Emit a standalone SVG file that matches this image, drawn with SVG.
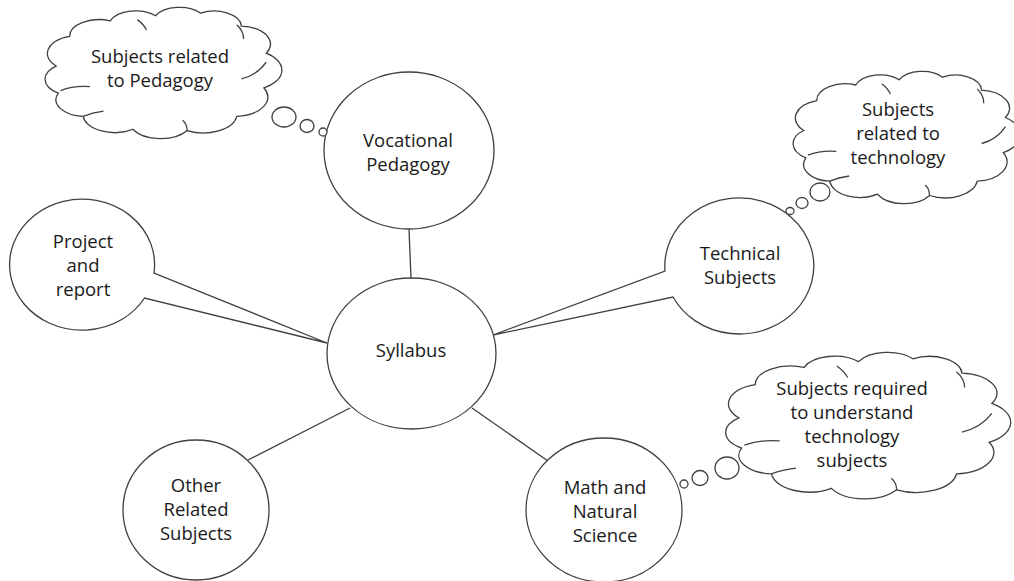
<svg xmlns="http://www.w3.org/2000/svg" width="1014" height="581" viewBox="0 0 1014 581">
<style>
.sh{fill:#fff;stroke:#404040;stroke-width:1.3}
.ln{fill:none;stroke:#404040;stroke-width:1.3}
.cl{fill:#fff;stroke:#404040;stroke-width:1.3;vector-effect:non-scaling-stroke}
.cr{fill:none;stroke:#404040;stroke-width:1.3;vector-effect:non-scaling-stroke}
.t{font-family:"Open Sans",Lato,sans-serif;font-size:18.5px;fill:#1a1a1a;text-anchor:middle}
</style>
<defs>
<path id="cloud" class="cl" d="M4,45 A14 14 0 0 1 10,22 A13 13 0 0 1 28,10 A12 12 0 0 1 48,6 A12 12 0 0 1 68,4 A12 12 0 0 1 86,14 A14 14 0 0 1 97,35 A16 16 0 0 1 96,62 A15 15 0 0 1 84,84 A15 15 0 0 1 62,95 A14 14 0 0 1 38,94 A14 14 0 0 1 16,84 A13 13 0 0 1 5,66 A13 13 0 0 1 4,45 Z"/>
<path id="crease" class="cr" d="M6,64 Q12,60 19,61 M40,9 Q43,13 44,17 M84,13 Q87,18 87,24 M97,42 Q93,52 86,55 M62,95 Q62,90 60,87 M16,84 Q20,81 25,80"/>
</defs>
<g id="connectors">
<line class="ln" x1="409" y1="229" x2="411" y2="278"/>
<line class="ln" x1="350" y1="408" x2="248" y2="460"/>
<line class="ln" x1="472" y1="408" x2="548" y2="461"/>
</g>
<g id="syllabus">
<ellipse class="sh" cx="411.5" cy="353.5" rx="84.5" ry="75.5"/>
<text class="t" x="411" y="357">Syllabus</text>
</g>
<g id="vocational">
<ellipse class="sh" cx="409" cy="150.5" rx="85" ry="78.5"/>
<text class="t" x="408" y="147">Vocational</text>
<text class="t" x="408" y="171">Pedagogy</text>
</g>
<g id="project">
<path class="sh" d="M154,273 A72.5 65.5 0 1 0 144.5,298 L327,343 Z"/>
<text class="t" x="83" y="248">Project</text>
<text class="t" x="83" y="272">and</text>
<text class="t" x="83" y="296">report</text>
</g>
<g id="technical">
<path class="sh" d="M665,271 A74.5 68 0 1 1 673,297 L493,335 Z"/>
<text class="t" x="740" y="260">Technical</text>
<text class="t" x="740" y="284">Subjects</text>
</g>
<g id="other">
<ellipse class="sh" cx="196" cy="510" rx="73" ry="70"/>
<text class="t" x="196" y="492">Other</text>
<text class="t" x="196" y="516">Related</text>
<text class="t" x="196" y="540">Subjects</text>
</g>
<g id="math">
<ellipse class="sh" cx="604" cy="510" rx="78" ry="72"/>
<text class="t" x="605" y="494">Math and</text>
<text class="t" x="605" y="518">Natural</text>
<text class="t" x="605" y="542">Science</text>
</g>
<g id="cloud-pedagogy">
<ellipse class="sh" cx="284" cy="117" rx="12" ry="10"/>
<ellipse class="sh" cx="307" cy="126" rx="7" ry="6.5"/>
<ellipse class="sh" cx="323" cy="132" rx="4" ry="4"/>
<use href="#cloud" transform="translate(47,8) scale(2.26,1.29)"/>
<use href="#crease" transform="translate(47,8) scale(2.26,1.29)"/>
<text class="t" x="160" y="63">Subjects related</text>
<text class="t" x="160" y="87">to Pedagogy</text>
</g>
<g id="cloud-technology">
<ellipse class="sh" cx="820" cy="192" rx="10" ry="9"/>
<ellipse class="sh" cx="802" cy="203" rx="6" ry="5.5"/>
<ellipse class="sh" cx="790" cy="211" rx="4" ry="3.5"/>
<use href="#cloud" transform="translate(795,72) scale(2.17,1.30)"/>
<use href="#crease" transform="translate(795,72) scale(2.17,1.30)"/>
<text class="t" x="898" y="116">Subjects</text>
<text class="t" x="898" y="140">related to</text>
<text class="t" x="898" y="164">technology</text>
</g>
<g id="cloud-understand">
<ellipse class="sh" cx="727" cy="468" rx="12" ry="11"/>
<ellipse class="sh" cx="700" cy="478" rx="8" ry="7.5"/>
<ellipse class="sh" cx="684" cy="484" rx="4" ry="4"/>
<use href="#cloud" transform="translate(728,353) scale(2.72,1.44)"/>
<use href="#crease" transform="translate(728,353) scale(2.72,1.44)"/>
<text class="t" x="852" y="395">Subjects required</text>
<text class="t" x="852" y="419">to understand</text>
<text class="t" x="852" y="443">technology</text>
<text class="t" x="852" y="467">subjects</text>
</g>
</svg>
